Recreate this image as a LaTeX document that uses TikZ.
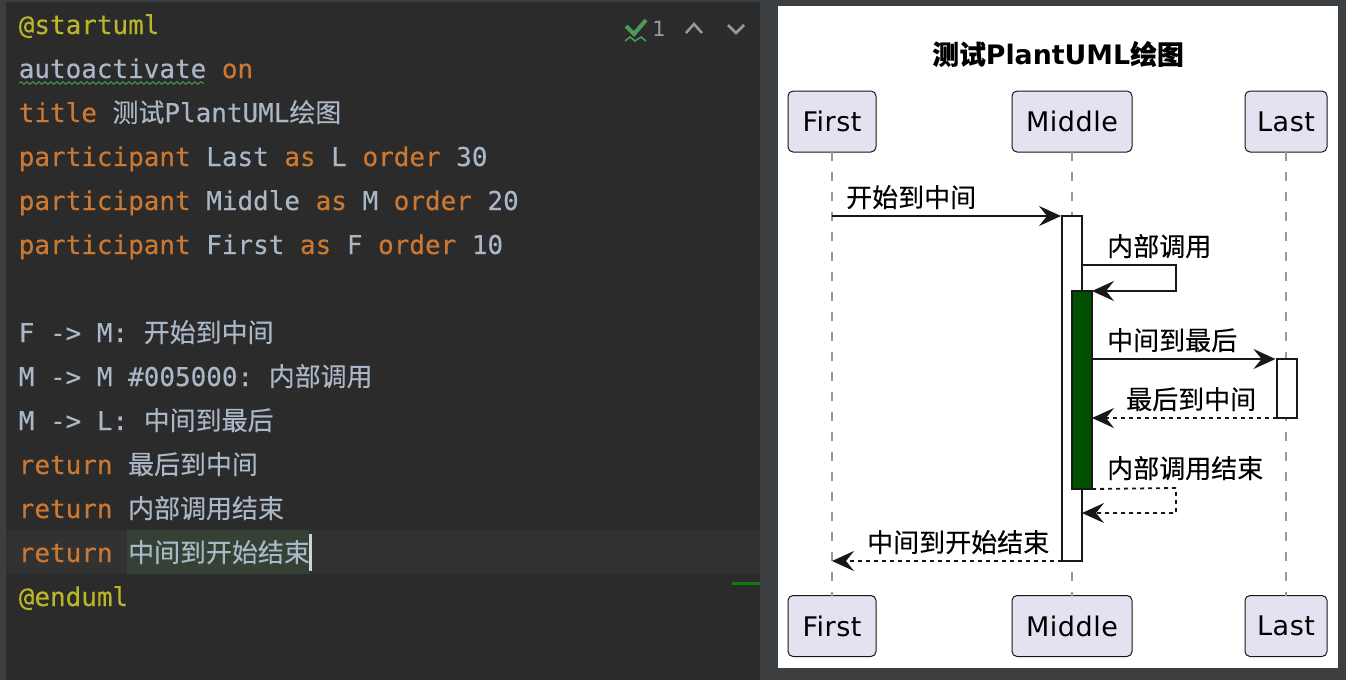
\documentclass[tikz,border=0pt]{standalone}
\usepackage{fontspec}
\usepackage{xcolor}
\setmainfont{DejaVu Sans}
\setmonofont[FakeBold=0.3]{DejaVu Sans Mono}
\newfontfamily\cjkfont[FakeBold=0.25]{Noto Sans CJK SC}
\usetikzlibrary{arrows.meta, positioning, calc, decorations.pathmorphing}

\definecolor{editorbg}{HTML}{2B2B2B}
\definecolor{framebg}{HTML}{3C3F41}
\definecolor{curline}{HTML}{323232}
\definecolor{selbg}{HTML}{344134}
\definecolor{codetext}{HTML}{A9B7C6}
\definecolor{codekey}{HTML}{CC7832}
\definecolor{codetag}{HTML}{BBB529}
\definecolor{hintgreen}{HTML}{499C54}
\definecolor{markgreen}{HTML}{107C10}
\definecolor{boxfill}{HTML}{E2E2F0}
\definecolor{boxline}{HTML}{181818}
\definecolor{callgreen}{HTML}{005000}

\newcommand{\zh}[1]{{\cjkfont #1}}
\newcommand{\kwd}[1]{\textcolor{codekey}{#1}}

\tikzset{
    codeline/.style={anchor=base west, inner sep=0pt, outer sep=0pt, text=codetext, font=\ttfamily\fontsize{25.95}{30}\selectfont},
    actor/.style={draw=boxline, line width=1pt, rounded corners=5pt, fill=boxfill, minimum height=61pt, inner sep=0pt, outer sep=0pt, font=\addfontfeature{LetterSpace=2}\fontsize{27}{32}\selectfont},
    lifeline/.style={draw=black!40, line width=2pt, dash pattern=on 9pt off 11pt},
    actbar/.style={draw=boxline, line width=2pt, fill=white, minimum width=20pt, inner sep=0pt, outer sep=0pt},
    msg/.style={draw=boxline, line width=1.8pt, -{Stealth[length=22pt, width=20pt, inset=8pt]}},
    reply/.style={msg, dash pattern=on 4pt off 4pt},
    msglabel/.style={anchor=base west, inner sep=0pt, text=black, font=\cjkfont\fontsize{26}{30}\selectfont}
}

\begin{document}
\begin{tikzpicture}[x=1pt, y=-1pt]
        \useasboundingbox (0,0) rectangle (1346,680);

        % Window frame
        \fill[framebg] (0,0) rectangle (1346,680);
        \fill[editorbg] (6,2) rectangle (760,680);
        \fill[curline] (7,530) rectangle (760,574);
        \fill[selbg] (127,530) rectangle (309,574);
        \fill[codetext!60!white] (309,534) rectangle (312,571);
        \fill[markgreen] (732,582) rectangle (760,585);
        \fill[white] (778,6) rectangle (1338,668);

        % Source code
        \node[codeline, text=codetag] (line1) at (18.8,34) {@startuml};
        \node[codeline] (line2) at (18.8,78) {autoactivate \kwd{on}};
        \node[codeline] (line3) at (18.8,122) {\kwd{title} \zh{测试}PlantUML\zh{绘图}};
        \node[codeline] (line4) at (18.8,166) {\kwd{participant} Last \kwd{as} L \kwd{order} 30};
        \node[codeline] (line5) at (18.8,210) {\kwd{participant} Middle \kwd{as} M \kwd{order} 20};
        \node[codeline] (line6) at (18.8,254) {\kwd{participant} First \kwd{as} F \kwd{order} 10};
        \node[codeline] (line8) at (18.8,342) {F -> M: \zh{开始到中间}};
        \node[codeline] (line9) at (18.8,386) {M -> M \#005000: \zh{内部调用}};
        \node[codeline] (line10) at (18.8,430) {M -> L: \zh{中间到最后}};
        \node[codeline] (line11) at (18.8,474) {\kwd{return} \zh{最后到中间}};
        \node[codeline] (line12) at (18.8,518) {\kwd{return} \zh{内部调用结束}};
        \node[codeline] (line13) at (18.8,562) {\kwd{return} \zh{中间到开始结束}};
        \node[codeline, text=codetag] (line14) at (18.8,606) {@enduml};

        % Inspection marks
        \draw[hintgreen, line width=1pt, decorate, decoration={snake, segment length=6pt, amplitude=1.3pt}] (19,83) -- (204,83);
        \draw[hintgreen, line width=4pt] (626,26) -- (634,34) -- (646,20);
        \draw[hintgreen, line width=1.5pt] (625,41) -- (630,37) -- (635,41) -- (641,37) -- (646,41);
        \node[inner sep=0pt, text=gray!80, font=\fontsize{21}{24}\selectfont] (hintcount) at (659,29) {1};
        \draw[gray!80, line width=2.5pt] (686,33) -- (694,24) -- (702,33);
        \draw[gray!80, line width=2.5pt] (728,25) -- (736,33) -- (744,25);

        % Title
        \node[inner sep=0pt, text=black, font=\bfseries\fontsize{26.8}{30}\selectfont] (title) at (1058,54) {\zh{\bfseries 测试}PlantUML\zh{\bfseries 绘图}};

        % Participants
        \node[actor, minimum width=88pt] (first) at (832,121.5) {First};
        \node[actor, minimum width=120pt] (middle) at (1072,121.5) {Middle};
        \node[actor, minimum width=82pt] (last) at (1286,121.5) {Last};
        \node[actor, minimum width=88pt] (firstb) at (832,626) {First};
        \node[actor, minimum width=120pt] (middleb) at (1072,626) {Middle};
        \node[actor, minimum width=82pt] (lastb) at (1286,626) {Last};

        % Lifelines
        \draw[lifeline] (first) -- (firstb);
        \draw[lifeline] (middle) -- (middleb);
        \draw[lifeline] (last) -- (lastb);

        % Activations
        \node[actbar, minimum height=345pt] (midbar) at (1072,388.5) {};
        \node[actbar, minimum height=198pt, fill=callgreen] (selfbar) at (1082,390) {};
        \node[actbar, minimum height=59pt] (lastbar) at (1286.5,388.5) {};

        % Messages
        \coordinate (firstcall) at (first |- midbar.north);
        \draw[msg, shorten >=1pt] (firstcall) -- (midbar.north west);
        \node[msglabel] (lab1) at (846,207) {开始到中间};

        \coordinate (selfout) at (1082,265);
        \coordinate (selfturn) at (1176,265);
        \coordinate (selfback) at (1176,291);
        \draw[msg, rounded corners=0pt] (selfout) -- (selfturn) -- (selfback) -- (selfbar.north east);
        \node[msglabel] (lab2) at (1107,256) {内部调用};

        \coordinate (lastin) at (selfbar.east |- lastbar.north);
        \draw[msg, shorten >=1pt] (lastin) -- (lastbar.north west);
        \node[msglabel] (lab3) at (1107,350) {中间到最后};

        \coordinate (lastout) at (selfbar.east |- lastbar.south);
        \draw[reply] (lastbar.south west) -- (lastout);
        \node[msglabel] (lab4) at (1126,409) {最后到中间};

        \coordinate (backturn) at (1176,488);
        \coordinate (backend) at (1176,513);
        \coordinate (backin) at (midbar.east |- backend);
        \draw[reply] (selfbar.south east) -- (backturn) -- (backend) -- (backin);
        \node[msglabel] (lab5) at (1107,478) {内部调用结束};

        \coordinate (firstback) at (first |- midbar.south);
        \draw[reply] (midbar.south west) -- (firstback);
        \node[msglabel] (lab6) at (867,552) {中间到开始结束};

    \end{tikzpicture}
\end{document}
